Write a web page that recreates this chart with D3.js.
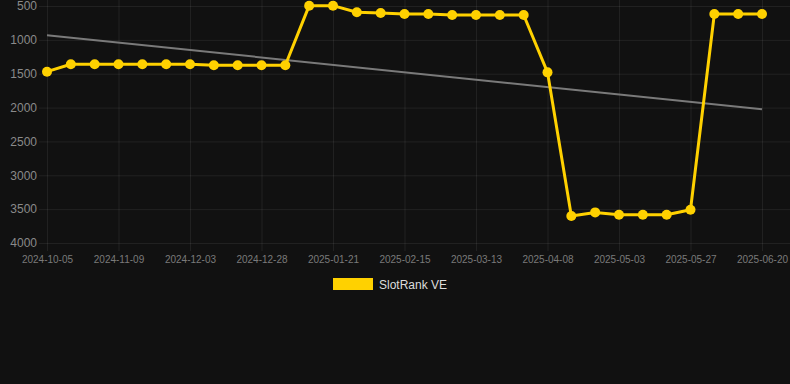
<!DOCTYPE html>
<html>
<head>
<meta charset="utf-8">
<script src="https://cdn.jsdelivr.net/npm/d3@7"></script>
<style>
  html, body { margin: 0; padding: 0; background: #111111; }
  svg { display: block; font-family: "Liberation Sans", Arial, sans-serif; }
</style>
</head>
<body>
<svg id="chart" width="790" height="384"></svg>
<script>
// categories (one per point); only every 3rd one is labelled on the axis
const dates = [
  "2024-10-05", "2024-10-17", "2024-10-29", "2024-11-09", "2024-11-17", "2024-11-25",
  "2024-12-03", "2024-12-11", "2024-12-19", "2024-12-28", "2025-01-05", "2025-01-13",
  "2025-01-21", "2025-01-29", "2025-02-06", "2025-02-15", "2025-02-23", "2025-03-05",
  "2025-03-13", "2025-03-21", "2025-03-30", "2025-04-08", "2025-04-16", "2025-04-24",
  "2025-05-03", "2025-05-11", "2025-05-19", "2025-05-27", "2025-06-04", "2025-06-12",
  "2025-06-20"
];
const rank = [
  1470, 1361, 1361, 1361, 1361, 1361, 1361, 1376, 1376, 1376, 1376,
  495, 495, 593, 603, 618, 618, 633, 633, 633, 633,
  1480, 3600, 3548, 3583, 3583, 3583, 3509, 618, 618, 618
];
const yTicks = [500, 1000, 1500, 2000, 2500, 3000, 3500, 4000];
const xTickLabels = dates.filter((d, i) => i % 3 === 0);
const seriesName = "SlotRank VE";

const svg = d3.select("#chart");
const margin = { top: 6, right: 28, bottom: 141, left: 47 },
  width = +svg.attr("width"),
  height = +svg.attr("height");
const plotBottom = height - margin.bottom;

const x = d3.scalePoint().domain(dates).range([margin.left, width - margin.right]);
const y = d3.scaleLinear().domain([500, 4000]).range([margin.top, plotBottom]);

// horizontal grid + y labels
const gy = svg.append("g")
  .attr("transform", `translate(${margin.left - 8},0)`)
  .call(d3.axisRight(y).tickValues(yTicks).tickSize(width - margin.left + 8).tickFormat(d3.format("d")));
gy.select(".domain").remove();
gy.selectAll(".tick line").attr("stroke", "rgba(255,255,255,0.07)");
gy.selectAll(".tick text")
  .attr("x", -2)
  .attr("text-anchor", "end")
  .attr("fill", "#8a8a8a")
  .style("font-size", "12px");

// vertical grid + x labels
const gx = svg.append("g")
  .attr("transform", `translate(0,${plotBottom + 8})`)
  .call(d3.axisTop(x).tickValues(xTickLabels).tickSize(plotBottom + 8).tickPadding(0));
gx.select(".domain").remove();
gx.selectAll(".tick line").attr("stroke", "rgba(255,255,255,0.07)");
gx.selectAll(".tick text")
  .attr("y", 12)
  .attr("fill", "#7a7a7a")
  .style("font-size", "10px");

// trend line (least squares over the series)
const n = rank.length;
const mx = d3.mean(rank, (d, i) => i), my = d3.mean(rank);
const slope = d3.sum(rank, (d, i) => (i - mx) * (d - my)) / d3.sum(rank, (d, i) => (i - mx) * (i - mx));
const trend = [0, n - 1].map(i => ({ i, v: my + slope * (i - mx) }));
svg.append("path")
  .datum(trend)
  .attr("fill", "none")
  .attr("stroke", "#7a7a7a")
  .attr("stroke-width", 2)
  .attr("d", d3.line().x(d => x(dates[d.i])).y(d => y(d.v)));

// main series
const gold = "#ffd100";
svg.append("path")
  .datum(rank)
  .attr("fill", "none")
  .attr("stroke", gold)
  .attr("stroke-width", 3)
  .attr("stroke-linejoin", "round")
  .attr("d", d3.line().x((d, i) => x(dates[i])).y(d => y(d)));

svg.append("g").selectAll("circle")
  .data(rank)
  .join("circle")
  .attr("cx", (d, i) => x(dates[i]))
  .attr("cy", d => y(d))
  .attr("r", 5)
  .attr("fill", gold);

// legend
const lg = svg.append("g").attr("transform", "translate(333,278)");
lg.append("rect").attr("width", 40).attr("height", 12).attr("fill", gold);
lg.append("text")
  .attr("x", 46).attr("y", 10.5)
  .attr("fill", "#dddddd")
  .style("font-size", "12px")
  .text(seriesName);
</script>
</body>
</html>
